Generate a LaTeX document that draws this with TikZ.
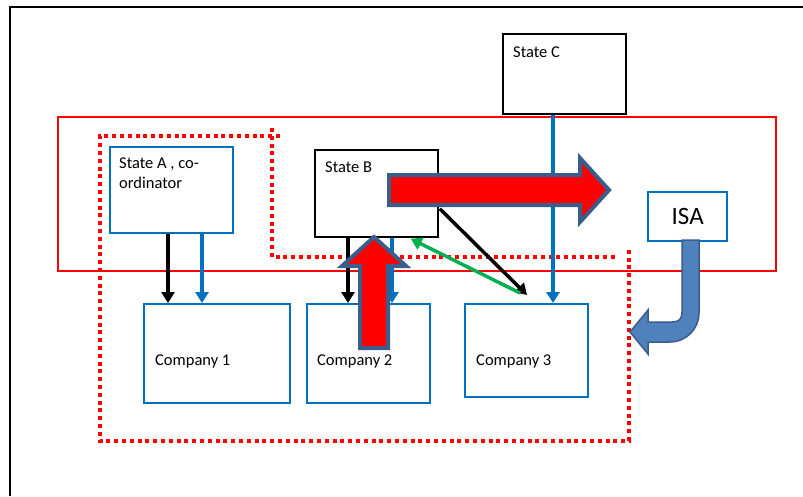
\documentclass[tikz,border=0pt]{standalone}
\usepackage{fontspec}
\setmainfont{Carlito}
\usetikzlibrary{arrows.meta,calc}
\definecolor{mblue}{HTML}{0070C0}
\definecolor{mgreen}{HTML}{00B050}
\definecolor{bigedge}{HTML}{3A5D8C}
\definecolor{isafill}{HTML}{4F81BD}
\definecolor{isaedge}{HTML}{385D8A}
\begin{document}
\begin{tikzpicture}[x=1pt,y=-1pt,
  bluebox/.style={draw=mblue, line width=2.4pt, rectangle, inner sep=0pt, anchor=north west},
  blackbox/.style={draw=black, line width=1.8pt, rectangle, inner sep=0pt, anchor=north west},
  lbl/.style={font=\fontsize{16.5}{20}\selectfont, inner sep=0pt, anchor=base west},
  conn/.style={line width=3.5pt, -{Triangle[length=11pt,width=13pt]}},
  bigarrow/.style={fill=red, draw=bigedge, line width=4pt, line join=miter},
  dotline/.style={draw=red, line width=3.5pt, dash pattern=on 4pt off 3.8pt},
  region/.style={draw=red, line width=1.4pt}]
\useasboundingbox (0,0) rectangle (803,496);
% frame
\draw[line width=2pt] (803,7) -- (10,7) -- (10,496);
% solid red region
\draw[region] (58,117) rectangle (776,271);
% dotted region
\draw[dotline] (280,136) -- (100,136) -- (100,441) -- (629,441) -- (629,248);
\draw[dotline] (272,128) -- (272,257) -- (615,257);
% boxes
\node[bluebox, minimum width=123pt, minimum height=86pt] (A) at (109,146) {};
\node[blackbox, minimum width=123pt, minimum height=87pt] (B) at (314,149) {};
\node[blackbox, minimum width=123pt, minimum height=80pt] (C) at (502,33) {};
\node[bluebox, minimum width=146pt, minimum height=99pt] (C1) at (143,303) {};
\node[bluebox, minimum width=123pt, minimum height=99pt] (C2) at (306,303) {};
\node[bluebox, minimum width=123pt, minimum height=93pt] (C3) at (464,303) {};
\node[bluebox, minimum width=79pt, minimum height=49pt, font=\fontsize{25}{30}\selectfont] (ISA) at (647,191) {ISA};
% labels
\node[lbl] (At) at (119,168) {\begin{tabular}[t]{@{}l@{}}State A , co-\\ordinator\end{tabular}};
\node[lbl] (Bt) at (325,172) {State B};
\node[lbl] (Ct) at (513,57) {State C};
\node[lbl] (C1t) at (155,365) {Company 1};
\node[lbl] (C2t) at (317,365) {Company 2};
\node[lbl] (C3t) at (476,365) {Company 3};
% connectors
\draw[conn, black] ($(A.south west)+(59,0)$) -- ($(C1.north west)+(25,0)$);
\draw[conn, mblue] ($(A.south west)+(93,0)$) -- ($(C1.north west)+(59,0)$);
\draw[conn, black] ($(B.south west)+(34,0)$) -- ($(C2.north west)+(42,0)$);
\draw[conn, mblue] ($(B.south west)+(78,0)$) -- ($(C2.north west)+(86,0)$);
\draw[conn, mblue] ($(C.south west)+(51,0)$) -- ($(C3.north west)+(89,0)$);
\draw[conn, black] ($(B.south east)+(1,-29)$) -- ($(C3.north west)+(63,-8)$);
\draw[conn, mgreen] ($(C3.north west)+(56,-10)$) -- ($(B.south east)+(-28,1)$);
% big red arrows
\draw[bigarrow] (389,175) -- (580,175) -- (580,158) -- (609,190) -- (580,222) -- (580,205) -- (389,205) -- cycle;
\draw[bigarrow] (360,348) -- (360,266) -- (342,266) -- (374,237) -- (406,266) -- (388,266) -- (388,348) -- cycle;
% ISA curved arrow
\draw[fill=isafill, draw=isaedge, line width=1.5pt, line join=miter]
  (682,240) -- (682,312) .. controls (682,319) and (679,322) .. (672,322)
  -- (648,322) -- (648,310) -- (630,332) -- (648,354) -- (648,342) -- (670,342)
  .. controls (686,342) and (699,329) .. (699,313) -- (699,240) -- cycle;
\end{tikzpicture}
\end{document}
